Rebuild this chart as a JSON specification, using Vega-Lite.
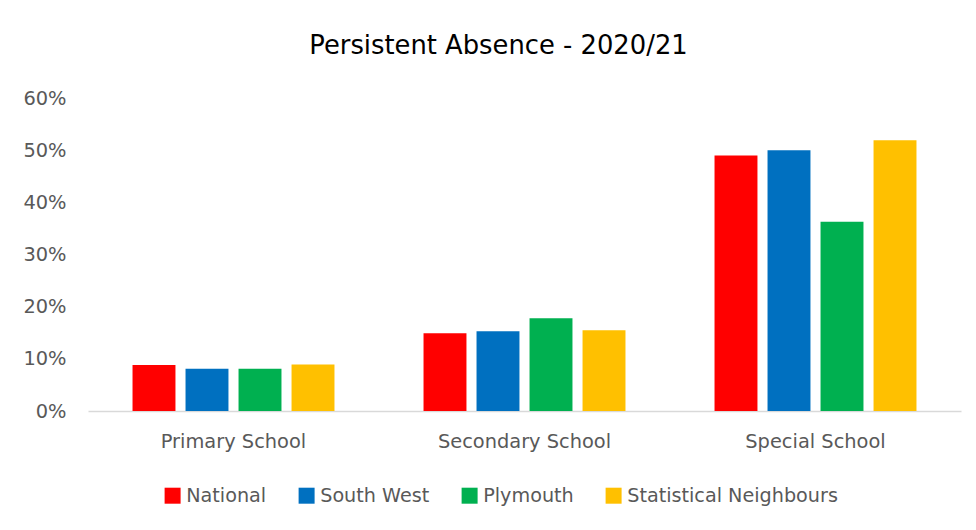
{
  "$schema": "https://vega.github.io/schema/vega-lite/v6.json",
  "width": 873,
  "height": 313,
  "autosize": {"type": "none"},
  "padding": {"left": 88, "top": 98, "right": 15, "bottom": 119},
  "background": "white",
  "title": {
    "text": "Persistent Absence - 2020/21",
    "fontSize": 25.8,
    "font": "DejaVu Sans",
    "fontWeight": "normal",
    "color": "#000000",
    "anchor": "middle",
    "dx": -26,
    "offset": 28
  },
  "data": {
    "values": [
      {"phase": "Primary School", "area": "National", "value": 0.088},
      {"phase": "Primary School", "area": "South West", "value": 0.081},
      {"phase": "Primary School", "area": "Plymouth", "value": 0.081},
      {"phase": "Primary School", "area": "Statistical Neighbours", "value": 0.089},
      {"phase": "Secondary School", "area": "National", "value": 0.149},
      {"phase": "Secondary School", "area": "South West", "value": 0.153},
      {"phase": "Secondary School", "area": "Plymouth", "value": 0.178},
      {"phase": "Secondary School", "area": "Statistical Neighbours", "value": 0.155},
      {"phase": "Special School", "area": "National", "value": 0.490},
      {"phase": "Special School", "area": "South West", "value": 0.500},
      {"phase": "Special School", "area": "Plymouth", "value": 0.363},
      {"phase": "Special School", "area": "Statistical Neighbours", "value": 0.519}
    ]
  },
  "mark": {"type": "bar"},
  "encoding": {
    "x": {
      "field": "phase",
      "type": "nominal",
      "sort": ["Primary School", "Secondary School", "Special School"],
      "scale": {"paddingInner": 0, "paddingOuter": 0},
      "axis": {
        "title": null,
        "labelAngle": 0,
        "labelFontSize": 19.4,
        "labelFont": "DejaVu Sans",
        "labelColor": "#595959",
        "labelPadding": 21,
        "ticks": false,
        "domainColor": "#d9d9d9",
        "domainWidth": 1.5,
        "grid": false
      }
    },
    "xOffset": {
      "field": "area",
      "type": "nominal",
      "sort": ["National", "South West", "Plymouth", "Statistical Neighbours"],
      "scale": {"paddingInner": 0.19, "paddingOuter": 0.84}
    },
    "y": {
      "field": "value",
      "type": "quantitative",
      "scale": {"domain": [0, 0.6]},
      "axis": {
        "title": null,
        "format": ".0%",
        "values": [0, 0.1, 0.2, 0.3, 0.4, 0.5, 0.6],
        "labelOverlap": false,
        "labelFontSize": 19.4,
        "labelFont": "DejaVu Sans",
        "labelColor": "#595959",
        "labelPadding": 22,
        "ticks": false,
        "domain": false,
        "grid": false
      }
    },
    "color": {
      "field": "area",
      "type": "nominal",
      "sort": ["National", "South West", "Plymouth", "Statistical Neighbours"],
      "scale": {
        "domain": ["National", "South West", "Plymouth", "Statistical Neighbours"],
        "range": ["#FF0000", "#0070C0", "#00B050", "#FFC000"]
      },
      "legend": {
        "title": null,
        "orient": "none",
        "direction": "horizontal",
        "legendX": 75,
        "legendY": 388,
        "symbolType": "square",
        "symbolSize": 256,
        "symbolStrokeWidth": 0,
        "labelFontSize": 19.2,
        "labelFont": "DejaVu Sans",
        "labelColor": "#595959",
        "labelOffset": 4,
        "labelLimit": 400,
        "columnPadding": 30
      }
    }
  },
  "config": {
    "view": {"stroke": null}
  }
}
